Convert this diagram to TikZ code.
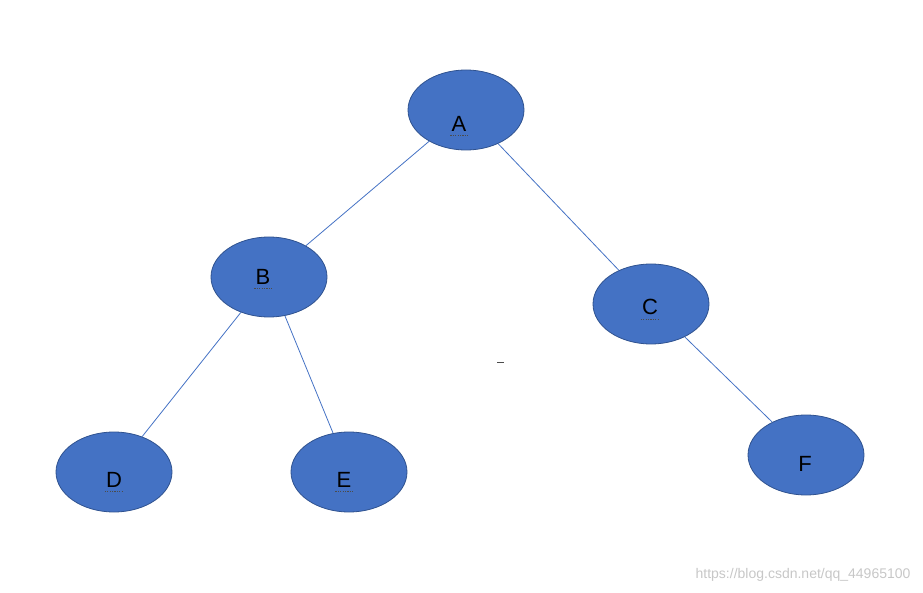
\documentclass[tikz,border=0pt]{standalone}
\usepackage{fontspec}
\setmainfont{Liberation Sans}
\usetikzlibrary{calc,shapes.geometric}

\definecolor{nodeblue}{RGB}{68,114,196}
\definecolor{edgeblue}{RGB}{47,82,143}

\begin{document}
\begin{tikzpicture}[
  x=1pt, y=-1pt,
  vertex/.style={
      ellipse,
      fill=nodeblue,
      draw=edgeblue,
      line width=0.8pt,
      minimum width=116pt,
      minimum height=80pt,
      inner sep=0pt
    },
  tag/.style={
      font=\fontsize{22}{22}\selectfont,
      text=black,
      inner sep=0pt
    },
  squiggle/.style={
      dash pattern=on 1.2pt off 1.2pt,
      line width=0.8pt,
      draw=black!70
    },
  link/.style={
      draw=nodeblue,
      line width=0.8pt
    }]

  \useasboundingbox (0,0) rectangle (923,593);

  \node [vertex] (A) at (466,110) {};
  \node [vertex] (B) at (269,277) {};
  \node [vertex] (C) at (651,304) {};
  \node [vertex] (D) at (114,472) {};
  \node [vertex] (E) at (349,472) {};
  \node [vertex] (F) at (806,455) {};

  \node [tag] (A_label) at ($(A) + (-7,14)$) {A};
  \node [tag] (B_label) at ($(B) + (-6,0)$) {B};
  \node [tag] (C_label) at ($(C) + (-1,3)$) {C};
  \node [tag] (D_label) at ($(D) + (0,8)$) {D};
  \node [tag] (E_label) at ($(E) + (-5,8)$) {E};
  \node [tag] (F_label) at ($(F) + (-1,9)$) {F};

  % spell-check marks under the letters
  \foreach \n in {A,B,C,D,E}
    \draw [squiggle] ($(\n_label.south west) + (-1,4)$) -- ($(\n_label.south east) + (1,4)$);

  \draw [link] (A) -- (B);
  \draw [link] (A) -- (C);
  \draw [link] (B) -- (D);
  \draw [link] (B) -- (E);
  \draw [link] (C) -- (F);

  \draw [line width=0.6pt, black!70] (497,362) -- (504,362);

  \node [anchor=east, text=black!22, font=\fontsize{14}{14}\selectfont] (mark) at (914,575) {https://blog.csdn.net/qq\_44965100};
\end{tikzpicture}
\end{document}
